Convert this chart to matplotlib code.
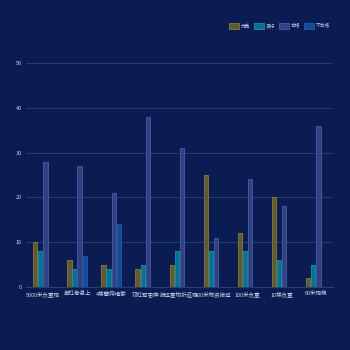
import numpy as np
import matplotlib.pyplot as plt

plt.rcParams["font.family"] = ["Noto Sans CJK SC", "DejaVu Sans"]

categories = ["5000米负重跑", "单杠卷身上", "4楼攀爬绳索", "双杠臂屈伸", "搬运重物折返跑",
              "400米物资搬运", "100米负重", "10楼负重", "60米跑梯"]
series_names = ["优秀", "良好", "合格", "不合格"]
excellent = [10, 6, 5, 4, 5, 25, 12, 20, 2]
good = [8, 4, 4, 5, 8, 8, 8, 6, 5]
passed = [28, 27, 21, 38, 31, 11, 24, 18, 36]
failed = [0, 7, 14, 0, 0, 0, 0, 0, 0]

fills = ["#5e5a34", "#0b6f8f", "#2f4384", "#174a95"]
edges = ["#8a7a32", "#1293b5", "#4a5aa5", "#1c5cb5"]
BG = "#0b1c52"

fig = plt.figure(figsize=(3.5, 3.5), dpi=100, facecolor=BG)
ax = fig.add_axes([0.074, 0.18, 0.877, 0.64], facecolor=BG)

x = np.arange(len(categories))
w = 0.15
for i, (name, vals) in enumerate(zip(series_names, [excellent, good, passed, failed])):
    ax.bar(x + (i - 1.5) * w, vals, width=w * 0.85, color=fills[i], edgecolor=edges[i],
           linewidth=0.6, label=name, zorder=3)

ax.set_xlim(-0.5, len(categories) - 0.5)
ax.set_ylim(0, 50)
ax.set_yticks([0, 10, 20, 30, 40, 50])
ax.set_xticks(x)
ax.set_xticklabels(categories, fontsize=3.4)
ax.tick_params(axis="both", length=0, colors="#c8d0e8", labelsize=4, pad=3)
ax.grid(axis="y", color="#2a3a6e", linewidth=0.8, zorder=0)
for s in ["top", "right", "left"]:
    ax.spines[s].set_visible(False)
ax.spines["bottom"].set_color("#2c3c70")
ax.spines["bottom"].set_linewidth(0.8)

leg = ax.legend(loc="center right", bbox_to_anchor=(1.0, 1.165), ncol=4, frameon=False,
                fontsize=3.4, handlelength=2.0, handleheight=1.3, columnspacing=0.9,
                handletextpad=0.4, borderaxespad=0.2)
for t in leg.get_texts():
    t.set_color("#c8d0e8")

fig.savefig("out.png", dpi=100, facecolor=BG)
